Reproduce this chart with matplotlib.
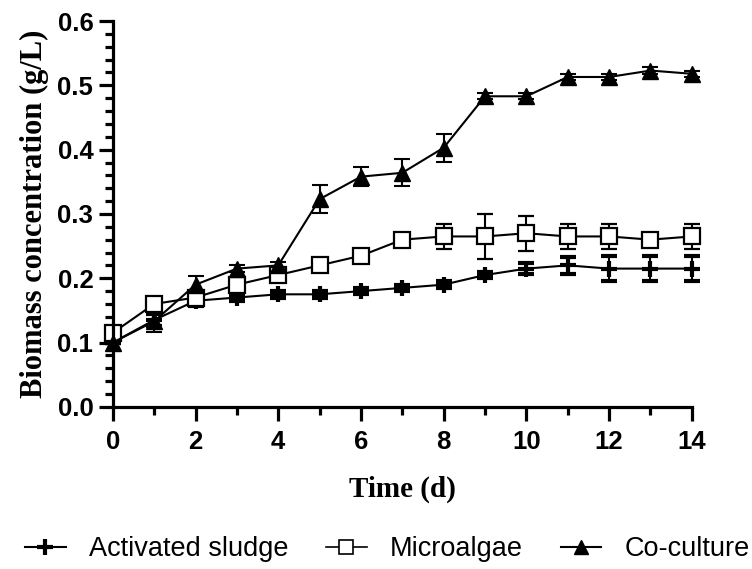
import numpy as np
import matplotlib.pyplot as plt
from matplotlib.ticker import MultipleLocator
from matplotlib.lines import Line2D

# Datos
dias = np.arange(0, 15)
lodo = [0.10, 0.135, 0.165, 0.17, 0.175, 0.175, 0.18, 0.185, 0.19, 0.205, 0.215, 0.22, 0.215, 0.215, 0.215]
lodo_err = [0.0, 0.01, 0.008, 0.005, 0.005, 0.005, 0.005, 0.005, 0.005, 0.005, 0.008, 0.013, 0.02, 0.02, 0.02]
micro = [0.115, 0.16, 0.17, 0.19, 0.205, 0.22, 0.235, 0.26, 0.265, 0.265, 0.27, 0.265, 0.265, 0.26, 0.265]
micro_err = [0.005, 0.005, 0.005, 0.005, 0.005, 0.005, 0.005, 0.008, 0.02, 0.035, 0.027, 0.02, 0.02, 0.01, 0.02]
cocultivo = [0.10, 0.133, 0.19, 0.215, 0.22, 0.323, 0.358, 0.364, 0.403, 0.483, 0.483, 0.513, 0.513, 0.523, 0.518]
cocultivo_err = [0.0, 0.017, 0.014, 0.005, 0.005, 0.022, 0.015, 0.021, 0.022, 0.005, 0.005, 0.005, 0.005, 0.005, 0.005]
etiquetas = ['Activated sludge', 'Microalgae', 'Co-culture']

fig = plt.figure(figsize=(7.52, 5.69), dpi=100)
ax = fig.add_axes([0.150, 0.285, 0.770, 0.678])

estilo = dict(color='black', linewidth=1.5, elinewidth=1.5, capsize=6, capthick=1.5, clip_on=False)
ax.errorbar(dias, lodo, yerr=lodo_err, marker='+', markersize=11, markeredgewidth=3, **estilo)
ax.errorbar(dias, micro, yerr=micro_err, marker='s', markersize=11, markerfacecolor='white',
            markeredgewidth=1.6, **estilo)
ax.errorbar(dias, cocultivo, yerr=cocultivo_err, marker='^', markersize=11, **estilo)

ax.set_xlim(0, 14)
ax.set_ylim(0, 0.6)
ax.xaxis.set_major_locator(MultipleLocator(2))
ax.xaxis.set_minor_locator(MultipleLocator(1))
ax.yaxis.set_major_locator(MultipleLocator(0.1))
ax.yaxis.set_minor_locator(MultipleLocator(0.02))
ax.yaxis.set_major_formatter(plt.FuncFormatter(lambda v, p: f'{v:.1f}'))

for lado in ['top', 'right']:
    ax.spines[lado].set_visible(False)
for lado in ['left', 'bottom']:
    ax.spines[lado].set_linewidth(2.3)
ax.tick_params(which='major', length=10, width=2.3, labelsize=18.5)
ax.tick_params(which='minor', length=6, width=2.3)
ax.tick_params(axis='x', which='major', pad=7)
ax.tick_params(axis='y', which='major', pad=4)
for t in ax.get_xticklabels() + ax.get_yticklabels():
    t.set_fontfamily('Liberation Sans')
    t.set_fontweight('bold')

ax.set_xlabel('Time (d)', fontfamily='Liberation Serif', fontweight='bold', fontsize=21, labelpad=15)
ax.set_ylabel('Biomass concentration (g/L)', fontfamily='Liberation Serif', fontweight='bold',
              fontsize=22, labelpad=6)

manejadores = [
    Line2D([], [], color='black', linewidth=1.5, marker='+', markersize=11, markeredgewidth=3),
    Line2D([], [], color='black', linewidth=1.2, marker='s', markersize=10, markerfacecolor='white', markeredgewidth=1.2),
    Line2D([], [], color='black', linewidth=1.5, marker='^', markersize=10),
]
fig.legend(manejadores, etiquetas, loc='center', bbox_to_anchor=(0.515, 0.035), ncol=3, frameon=False,
           prop={'family': 'Liberation Sans', 'size': 19.5}, handlelength=1.5, columnspacing=1.4,
           handletextpad=0.85, borderaxespad=0, borderpad=0)

fig.savefig('out.png', dpi=100)
